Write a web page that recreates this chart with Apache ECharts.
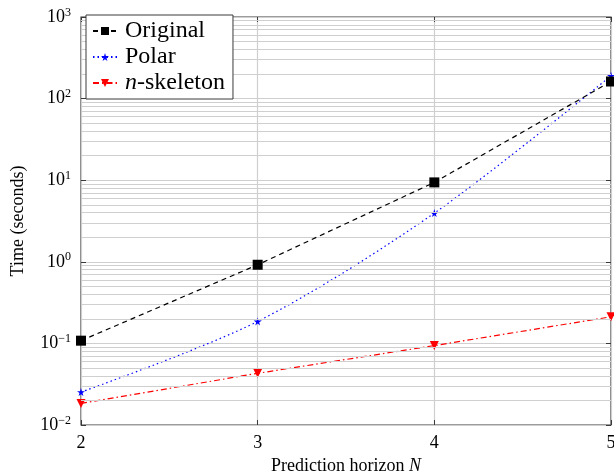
<!DOCTYPE html>
<html>
<head>
<meta charset="utf-8">
<script src="https://cdn.jsdelivr.net/npm/echarts@6/dist/echarts.min.js"></script>
<style>
  html, body { margin: 0; padding: 0; background: #fff; }
  #chart { width: 614px; height: 472px; }
</style>
</head>
<body>
<div id="chart"></div>
<script>
// data
const horizons = [2, 3, 4, 5];
const original = [0.108, 0.92, 9.4, 162];
const polar = [0.0253, 0.186, 3.95, 190];
const skeleton = [0.0184, 0.043, 0.094, 0.212];

// log axis: decades and minor grid multipliers
const decades = [0.01, 0.1, 1, 10, 100];
const minorSteps = [2, 3, 4, 5, 6, 7, 8, 9];

const serif = 'Liberation Serif';
const gridColor = '#cfcfcf';
const frameColor = '#3a3a3a';

const minorLines = [];
decades.forEach(d => minorSteps.forEach(m => minorLines.push({ yAxis: d * m })));

const pairs = arr => horizons.map((n, i) => [n, arr[i]]);

const starPath = 'path://M50,0 L61,35 L98,35 L68,57 L79,91 L50,70 L21,91 L32,57 L2,35 L39,35 Z';

const chart = echarts.init(document.getElementById('chart'));
chart.setOption({
  animation: false,
  grid: {
    left: 81, right: 3, top: 17, bottom: 47,
    outerBoundsMode: 'none',
    show: true, borderColor: frameColor, borderWidth: 1.2
  },
  legend: {
    z: 50,
    orient: 'vertical',
    left: 86, top: 15,
    padding: [4, 8, 4, 6],
    itemGap: 2,
    itemWidth: 24, itemHeight: 10,
    backgroundColor: '#fff',
    borderColor: frameColor, borderWidth: 1,
    data: ['Original', 'Polar', 'n-skeleton'],
    formatter: name => name === 'n-skeleton' ? '{i|n}-skeleton' : name,
    textStyle: {
      fontFamily: serif, fontSize: 24, color: '#000', padding: [0, 0, 0, 3],
      rich: { i: { fontFamily: serif, fontStyle: 'italic', fontSize: 24 } }
    }
  },
  xAxis: [{
    type: 'value', min: 2, max: 5, interval: 1,
    name: 'Prediction horizon {i|N}',
    nameLocation: 'middle', nameGap: 28,
    nameTextStyle: {
      fontFamily: serif, fontSize: 18, color: '#000',
      rich: { i: { fontFamily: serif, fontStyle: 'italic', fontSize: 18 } }
    },
    axisLine: { show: false },
    axisTick: { inside: true, length: 5, lineStyle: { color: frameColor } },
    axisLabel: { fontFamily: serif, fontSize: 18, color: '#000', margin: 9 },
    splitLine: { show: true, lineStyle: { color: gridColor, width: 1.2 } }
  }, {
    type: 'value', min: 2, max: 5, interval: 1, position: 'top',
    axisLine: { show: false },
    axisTick: { inside: true, length: 5, lineStyle: { color: frameColor } },
    axisLabel: { show: false },
    splitLine: { show: false }
  }],
  yAxis: [{
    type: 'log', logBase: 10, min: 0.01, max: 1000,
    name: 'Time (seconds)',
    nameLocation: 'middle', nameGap: 54,
    nameTextStyle: { fontFamily: serif, fontSize: 18, color: '#000' },
    axisLine: { show: false },
    axisTick: { inside: true, length: 5, lineStyle: { color: frameColor } },
    axisLabel: {
      margin: 10,
      formatter: v => {
        const e = Math.round(Math.log10(v));
        return '10{sup|' + (e < 0 ? '\u2212' + (-e) : e) + '}';
      },
      fontFamily: serif, fontSize: 18, color: '#000',
      rich: { sup: { fontFamily: serif, fontSize: 12, padding: [0, 0, 9, 0] } }
    },
    splitLine: { show: true, lineStyle: { color: gridColor, width: 1 } }
  }, {
    type: 'log', logBase: 10, min: 0.01, max: 1000, position: 'right',
    axisLine: { show: false },
    axisTick: { inside: true, length: 5, lineStyle: { color: frameColor } },
    axisLabel: { show: false },
    splitLine: { show: false }
  }],
  series: [
    {
      name: 'minor', type: 'line', data: [], silent: true, z: 1,
      markLine: {
        silent: true, symbol: 'none', label: { show: false },
        lineStyle: { color: gridColor, type: 'solid', width: 1 },
        data: minorLines
      }
    },
    {
      name: 'Original', type: 'line', data: pairs(original), z: 5,
      symbol: 'rect', symbolSize: 10,
      itemStyle: { color: '#000' },
      lineStyle: { color: '#000', width: 1.2, type: [5, 4] }
    },
    {
      name: 'Polar', type: 'line', data: pairs(polar), z: 4, smooth: 0.3,
      symbol: starPath, symbolSize: 8,
      itemStyle: { color: '#0000ff' },
      lineStyle: { color: '#0000ff', width: 1.2, type: [1.5, 3] }
    },
    {
      name: 'n-skeleton', type: 'line', data: pairs(skeleton), z: 3,
      symbol: 'triangle', symbolRotate: 180, symbolSize: 9,
      itemStyle: { color: '#ff0000' },
      lineStyle: { color: '#ff0000', width: 1.2, type: [6, 3, 1.5, 3] }
    }
  ]
});
</script>
</body>
</html>
